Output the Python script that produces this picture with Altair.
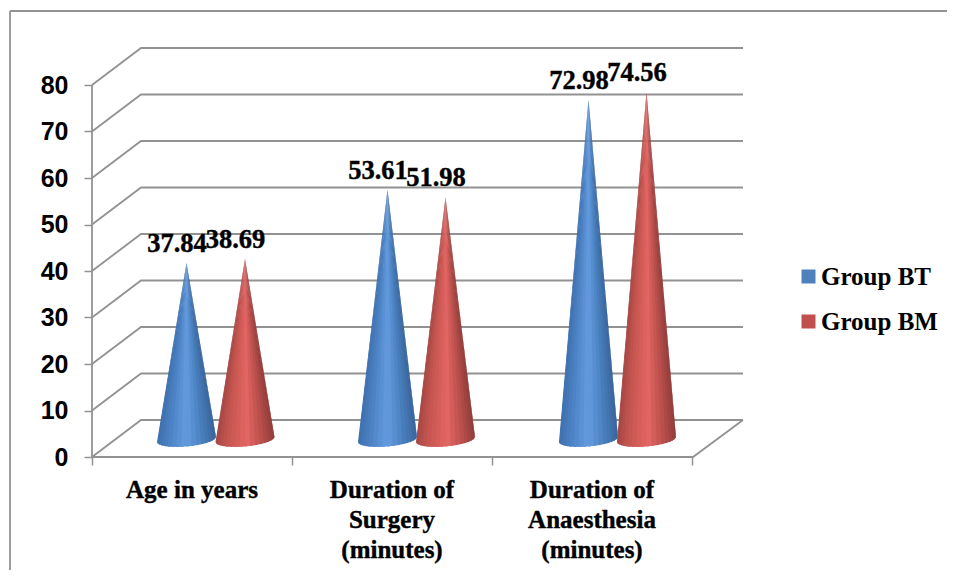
import math
import altair as alt
import pandas as pd

categories = ["Age in years", "Duration of\nSurgery\n(minutes)", "Duration of\nAnaesthesia\n(minutes)"]
group_bt = [37.84, 53.61, 72.98]
group_bm = [38.69, 51.98, 74.56]
groups = ["Group BT", "Group BM"]
legend_colors = ["#4F81BD", "#C0504D"]
y_ticks = [0, 10, 20, 30, 40, 50, 60, 70, 80]
group_edges = [0, 200, 400, 600]
label_positions = [100, 300, 500]
cone_x = {"Group BT": [94.5, 295.5, 496.5], "Group BM": [153, 353.5, 554.5]}

W, H = 651, 410
PX_PER_UNIT = 372 / 80
YMAX = H / PX_PER_UNIT
DEPTH_X = 49
DEPTH_Y = 37 / PX_PER_UNIT
FLOOR_END = 601
TIP_OFF = 18 / PX_PER_UNIT
BASE_OFF = 17.5 / PX_PER_UNIT
HALF_W = 29.5
HALF_B = 7 / PX_PER_UNIT
TILT = 2.5 / PX_PER_UNIT
SLICES = 18
GRID = "#929292"
FONT_SERIF = "Liberation Serif"

xs = alt.Scale(domain=[0, W], nice=False, zero=False)
ys = alt.Scale(domain=[0, YMAX], nice=False, zero=False)

grid_rows = []
for v in y_ticks:
    for i, (px, py) in enumerate([(0, v), (DEPTH_X, v + DEPTH_Y), (W, v + DEPTH_Y)]):
        grid_rows.append({"id": f"g{v}", "i": i, "x": px, "y": py})
for i, (px, py) in enumerate([(0, 0), (FLOOR_END, 0), (W, DEPTH_Y)]):
    grid_rows.append({"id": "floor", "i": i, "x": px, "y": py})
for i, (px, py) in enumerate([(0, 0), (0, 80)]):
    grid_rows.append({"id": "axis", "i": i, "x": px, "y": py})

grid = alt.Chart(pd.DataFrame(grid_rows)).mark_line(
    color=GRID, strokeWidth=1.8, clip=False
).encode(
    x=alt.X("x:Q", scale=xs,
            axis=alt.Axis(values=group_edges, labels=False, title=None, domain=False,
                          grid=False, tickSize=8, tickColor=GRID, tickWidth=1.5)),
    y=alt.Y("y:Q", scale=ys,
            axis=alt.Axis(values=y_ticks, title=None, domain=False, grid=False, format="d",
                          tickSize=8, tickColor=GRID, tickWidth=1.5, labelPadding=16,
                          labelFont="Liberation Sans", labelFontWeight="bold",
                          labelFontSize=25, labelColor="#000000")),
    detail="id:N",
    order="i:Q",
)

shade = {
    "Group BT": [(0, "#3d6fac"), (0.2, "#4a80c2"), (0.52, "#649ce0"),
                 (0.78, "#4a80c0"), (1, "#3a659c")],
    "Group BM": [(0, "#a34644"), (0.2, "#c4544f"), (0.55, "#e36663"),
                 (0.78, "#bf524e"), (1, "#913d3b")],
}


def shade_at(stops, u):
    for (a, ca), (b, cb) in zip(stops, stops[1:]):
        if u <= b:
            f = (u - a) / (b - a)
            parts = [
                round(int(ca[i:i + 2], 16) * (1 - f) + int(cb[i:i + 2], 16) * f)
                for i in (1, 3, 5)
            ]
            return "#%02x%02x%02x" % tuple(parts)
    return stops[-1][1]


def base_point(cx, theta):
    return (
        cx + HALF_W * math.cos(theta),
        BASE_OFF + TILT * math.cos(theta) + HALF_B * math.sin(theta),
    )


def wedge_rows(tip, p, q):
    pts = sorted([tip, p, q], key=lambda a: a[0])
    (x0, y0), (x1, y1), (x2, y2) = pts
    span = max(x2 - x0, 1e-6)
    mid = y0 + (y2 - y0) * (x1 - x0) / span
    return [
        {"x": x0, "top": y0, "bottom": y0},
        {"x": x1, "top": max(y1, mid), "bottom": min(y1, mid)},
        {"x": x2, "top": y2, "bottom": y2},
    ]


cones = []
label_rows = []
for name, vals in zip(groups, [group_bt, group_bm]):
    for cx, v in zip(cone_x[name], vals):
        tip = (cx, v + TIP_OFF)
        for s in range(SLICES):
            th0 = math.pi + math.pi * s / SLICES
            th1 = math.pi + math.pi * min(s + 1.5, SLICES) / SLICES
            p, q = base_point(cx, th0), base_point(cx, th1)
            mid_u = (0.5 * (p[0] + q[0]) - (cx - HALF_W)) / (2 * HALF_W)
            cones.append(
                alt.Chart(pd.DataFrame(wedge_rows(tip, p, q))).mark_area(
                    fill=shade_at(shade[name], mid_u), interpolate="linear", clip=False
                ).encode(
                    x=alt.X("x:Q", scale=xs),
                    y=alt.Y("top:Q", scale=ys),
                    y2="bottom:Q",
                )
            )
        label_rows.append({"x": cx, "y": v + TIP_OFF, "v": f"{v:.2f}", "g": name})

labels_df = pd.DataFrame(label_rows)

data_labels = alt.Chart(labels_df).mark_text(
    font=FONT_SERIF, fontWeight="bold", fontSize=26.5, color="#000000",
    stroke="#000000", strokeWidth=0.4,
    baseline="alphabetic", align="center", dx=-9.5, dy=-11, clip=False,
).encode(
    x=alt.X("x:Q", scale=xs),
    y=alt.Y("y:Q", scale=ys),
    text="v:N",
)

cat_df = pd.DataFrame({"x": label_positions, "t": categories})
cat_labels = alt.Chart(cat_df).mark_text(
    font=FONT_SERIF, fontWeight="bold", fontSize=25, color="#000000",
    stroke="#000000", strokeWidth=0.4,
    baseline="alphabetic", align="center", lineBreak="\n", lineHeight=30, clip=False,
).encode(
    x=alt.X("x:Q", scale=xs),
    y=alt.value(H + 41),
    text="t:N",
)

legend_layer = alt.Chart(labels_df).mark_square(opacity=0, size=196).encode(
    x=alt.X("x:Q", scale=xs),
    y=alt.Y("y:Q", scale=ys),
    color=alt.Color(
        "g:N",
        scale=alt.Scale(domain=groups, range=legend_colors),
        legend=alt.Legend(
            title=None, orient="none", legendX=704, legendY=217,
            symbolType="square", symbolSize=196, symbolOpacity=1, symbolStrokeWidth=0,
            labelFont=FONT_SERIF, labelFontWeight="bold", labelFontSize=25,
            labelColor="#000000", labelOffset=0, rowPadding=19, labelLimit=300,
        ),
    ),
)

border_top = alt.Chart(pd.DataFrame({"a": [0]})).mark_rule(color=GRID, strokeWidth=1.8).encode(
    x=alt.value(-82), x2=alt.value(W + 204), y=alt.value(-36)
)
border_left = alt.Chart(pd.DataFrame({"a": [0]})).mark_rule(color=GRID, strokeWidth=1.8).encode(
    x=alt.value(-82), y=alt.value(-36), y2=alt.value(H + 113)
)

chart = alt.layer(
    border_top, border_left, grid, *cones, data_labels, cat_labels, legend_layer
).properties(
    width=W, height=H,
    padding={"left": 84, "top": 39, "right": 204, "bottom": 113},
    autosize=alt.AutoSizeParams(type="none"),
    background="#ffffff",
).configure_view(stroke=None)

chart.save("out.html", embed_options={"renderer": "svg", "actions": False})
